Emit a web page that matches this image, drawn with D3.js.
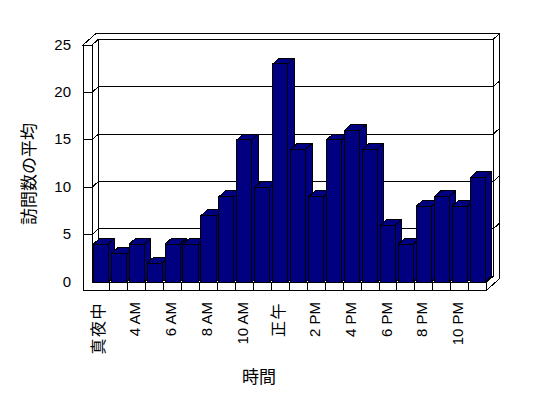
<!DOCTYPE html>
<html><head><meta charset="utf-8">
<script src="https://cdn.jsdelivr.net/npm/d3@7"></script>
<style>
html,body{margin:0;padding:0;background:#fff;}
svg{display:block;}
text{font-family:"Liberation Sans","Noto Sans CJK JP",sans-serif;fill:#000;}
</style></head>
<body>
<script>
const categories = ["真夜中","1 AM","4 AM","5 AM","6 AM","7 AM","8 AM","9 AM","10 AM","11 AM","正午","1 PM","2 PM","3 PM","4 PM","5 PM","6 PM","7 PM","8 PM","9 PM","10 PM","11 PM"];
const values = [4,3,4,2,4,4,7,9,15,10,23,14,9,15,16,14,6,4,8,9,8,11];
const yTicks = [0,5,10,15,20,25];
const yTitle = "訪問数の平均";
const xTitle = "時間";

const Wd = 548, Ht = 398;
const svg = d3.select("body").append("svg").attr("width", Wd).attr("height", Ht)
  .attr("shape-rendering","crispEdges");

const x = d3.scaleBand().domain(categories).range([92, 486.7]).paddingInner(0).paddingOuter(0);
const y = d3.scaleLinear().domain([0,25]).range([282, 45]);

const DX = 6.5, DY = -5.75;          // depth vector per unit
const wallT = 9, floorT = 8;          // wall / floor thickness (px)
const P = (X, Yp, Z) => [X + Z*DX, Yp + Z*DY];
const poly = pts => "M" + pts.map(p => p.join(",")).join("L") + "Z";
const x0 = x.range()[0], x1 = x.range()[1];
const y0 = y(0), yTop = y(25);

const g = svg.append("g");
const wallStyle = s => s.attr("fill","#fff").attr("stroke","#000").attr("stroke-width",1);

// back wall front face
g.append("path").attr("d", poly([P(x0,yTop,1),P(x1,yTop,1),P(x1,y0,1),P(x0,y0,1)])).call(wallStyle);
// left wall inner face
g.append("path").attr("d", poly([P(x0,yTop,0),P(x0,yTop,1),P(x0,y0,1),P(x0,y0,0)])).call(wallStyle);
// top surface of walls
g.append("path").attr("d", poly([P(x0-wallT,yTop,0),P(x0,yTop,0),P(x0,yTop,1),P(x1,yTop,1),P(x1,yTop,2),P(x0-wallT,yTop,2)])).call(wallStyle);
// right end face
g.append("path").attr("d", poly([P(x1,y0,0),P(x1,y0,1),P(x1,yTop,1),P(x1,yTop,2),P(x1,y0+floorT,2),P(x1,y0+floorT,0)])).call(wallStyle);
// floor top
g.append("path").attr("d", poly([P(x0,y0,0),P(x1,y0,0),P(x1,y0,1),P(x0,y0,1)])).call(wallStyle);
// front faces (left wall + floor, merged)
g.append("path").attr("d", poly([P(x0-wallT,yTop,0),P(x0,yTop,0),P(x0,y0,0),P(x1,y0,0),P(x1,y0+floorT,0),P(x0-wallT,y0+floorT,0)])).call(wallStyle);

// category separators on floor front
g.selectAll("line.sep").data(categories.slice(1)).join("line").attr("class","sep")
  .attr("x1", d => x(d)).attr("x2", d => x(d))
  .attr("y1", y0).attr("y2", y0+floorT).attr("stroke","#000");

// gridlines
const grid = yTicks.filter(v => v > 0 && v < 25);
grid.forEach(v => {
  const yy = y(v);
  const pts = [[x0-wallT,yy],P(x0,yy,0),P(x0,yy,1),P(x1,yy,1),P(x1,yy,2)];
  g.append("path").attr("d","M"+pts.map(p=>p.join(",")).join("L"))
    .attr("fill","none").attr("stroke","#000");
});

// bars
const bw = x.bandwidth();
const bx = d => x(d) + bw*0.072;
const bwid = bw*0.84;
const bars = g.selectAll("g.bar").data(categories.map((c,i)=>({c, v: values[i]}))).join("g").attr("class","bar");
const barStyle = s => s.attr("fill","#000080").attr("stroke","#000").attr("stroke-width",1).attr("stroke-linejoin","round");
bars.append("path").attr("d", d => { const L=bx(d.c), R=L+bwid, T=y(d.v);
  return poly([P(R,T,0),P(R,T,1),P(R,y0,1),P(R,y0,0)]); }).call(barStyle);
bars.append("path").attr("d", d => { const L=bx(d.c), R=L+bwid, T=y(d.v);
  return poly([P(L,T,0),P(L,T,1),P(R,T,1),P(R,T,0)]); }).call(barStyle);
bars.append("path").attr("d", d => { const L=bx(d.c), R=L+bwid, T=y(d.v);
  return poly([P(L,T,0),P(R,T,0),P(R,y0,0),P(L,y0,0)]); }).call(barStyle);

// y tick labels
svg.append("g").selectAll("text").data(yTicks).join("text")
  .attr("x", 71).attr("y", d => y(d) - 1)
  .attr("text-anchor","end").attr("dominant-baseline","central")
  .attr("font-size", 15).text(d => d);

// x tick labels (every other category)
const isCJK = s => /[\u3000-\u9fff]/.test(s);
svg.append("g").selectAll("text").data(categories.filter((c,i)=> i%2===0)).join("text")
  .attr("transform", d => `translate(${x(d)+bw/2-2},302) rotate(-90)`)
  .attr("text-anchor","end").attr("dominant-baseline","central")
  .attr("fill","#000")
  .attr("font-size", d => isCJK(d) ? 16 : 15)
  .attr("letter-spacing", d => isCJK(d) ? 1.5 : 0)
  .text(d => d);

// axis titles
svg.append("text").attr("transform","translate(29,174) rotate(-90)")
  .attr("text-anchor","middle").attr("dominant-baseline","central")
  .attr("font-size",17).text(yTitle);
svg.append("text").attr("x",259).attr("y",377)
  .attr("text-anchor","middle").attr("dominant-baseline","central")
  .attr("font-size",17).text(xTitle);
</script>
</body></html>
